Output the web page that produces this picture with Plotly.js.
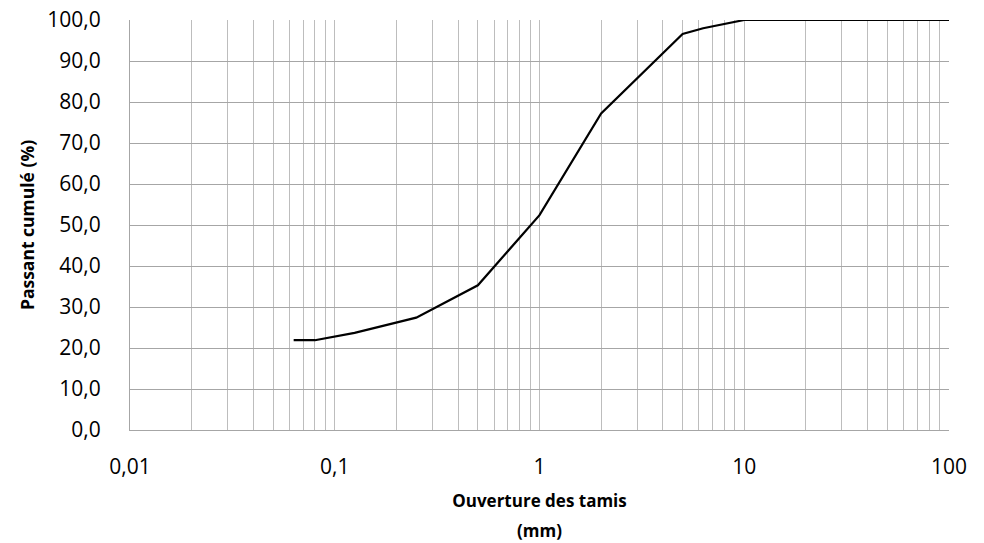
<!DOCTYPE html>
<html>
<head>
<meta charset="utf-8">
<script src="https://cdn.plot.ly/plotly-3.0.1.min.js"></script>
<style>html,body{margin:0;padding:0;background:#fff;}#chart{width:984px;height:543px;}</style>
</head>
<body>
<div id="chart"></div>
<script>
// Sieve openings (mm) and cumulative passing (%)
const sieveSizes = [0.063, 0.08, 0.125, 0.25, 0.5, 1, 2, 5, 6.3, 10, 20, 31.5, 50, 100];
const passing    = [21.9, 21.9, 23.7, 27.4, 35.3, 52.4, 77.2, 96.6, 98.0, 100, 100, 100, 100, 100];

// Axis ticks
const decadeVals = [0.01, 0.1, 1, 10, 100];
const decadeLabels = ['0,01', '0,1', '1', '10', '100'];
const yTickVals = [0, 10, 20, 30, 40, 50, 60, 70, 80, 90, 100];
const yTickLabels = ['0,0', '10,0', '20,0', '30,0', '40,0', '50,0', '60,0', '70,0', '80,0', '90,0', '100,0'];

const xTickVals = [];
const xTickText = [];
for (let d = 0; d < decadeVals.length; d++) {
  const base = decadeVals[d];
  xTickVals.push(base);
  xTickText.push(decadeLabels[d]);
  if (d < decadeVals.length - 1) {
    for (let m = 2; m <= 9; m++) {
      xTickVals.push(+(base * m).toPrecision(6));
      xTickText.push('');
    }
  }
}

const font = "'Open Sans', 'Noto Sans', sans-serif";

const trace = {
  x: sieveSizes,
  y: passing,
  type: 'scatter',
  mode: 'lines',
  line: {color: '#000000', width: 2.2},
  hoverinfo: 'skip'
};

const layout = {
  width: 984,
  height: 543,
  margin: {l: 130, r: 35, t: 20, b: 113},
  paper_bgcolor: '#ffffff',
  plot_bgcolor: '#ffffff',
  showlegend: false,
  font: {family: font, color: '#000000', size: 21},
  xaxis: {
    type: 'log',
    range: [-2, 2],
    tickmode: 'array',
    tickvals: xTickVals,
    ticktext: xTickText,
    showgrid: true,
    gridcolor: '#bdbdbd',
    gridwidth: 1,
    showline: true,
    linecolor: '#a6a6a6',
    linewidth: 1,
    ticks: '',
    ticklabelstandoff: 18,
    tickfont: {family: font, size: 21, color: '#000'},
    zeroline: false,
    title: {
      text: '<b><span style="font-size:17px">Ouverture des tamis</span><br><span style="font-size:17px">(mm)</span></b>',
      font: {family: font, size: 23, color: '#000'},
      standoff: 11
    }
  },
  yaxis: {
    range: [0, 100],
    tickmode: 'array',
    tickvals: yTickVals,
    ticktext: yTickLabels,
    showgrid: true,
    gridcolor: '#a6a6a6',
    gridwidth: 1,
    showline: true,
    linecolor: '#a6a6a6',
    linewidth: 1,
    ticks: '',
    ticklabelstandoff: 24,
    tickfont: {family: font, size: 21, color: '#000'},
    zeroline: false,
    title: {text: '<b>Passant cumulé (%)</b>', font: {family: font, size: 17.5, color: '#000'}, standoff: 8}
  }
};

Plotly.newPlot('chart', [trace], layout, {displayModeBar: false, staticPlot: true});
</script>
</body>
</html>
